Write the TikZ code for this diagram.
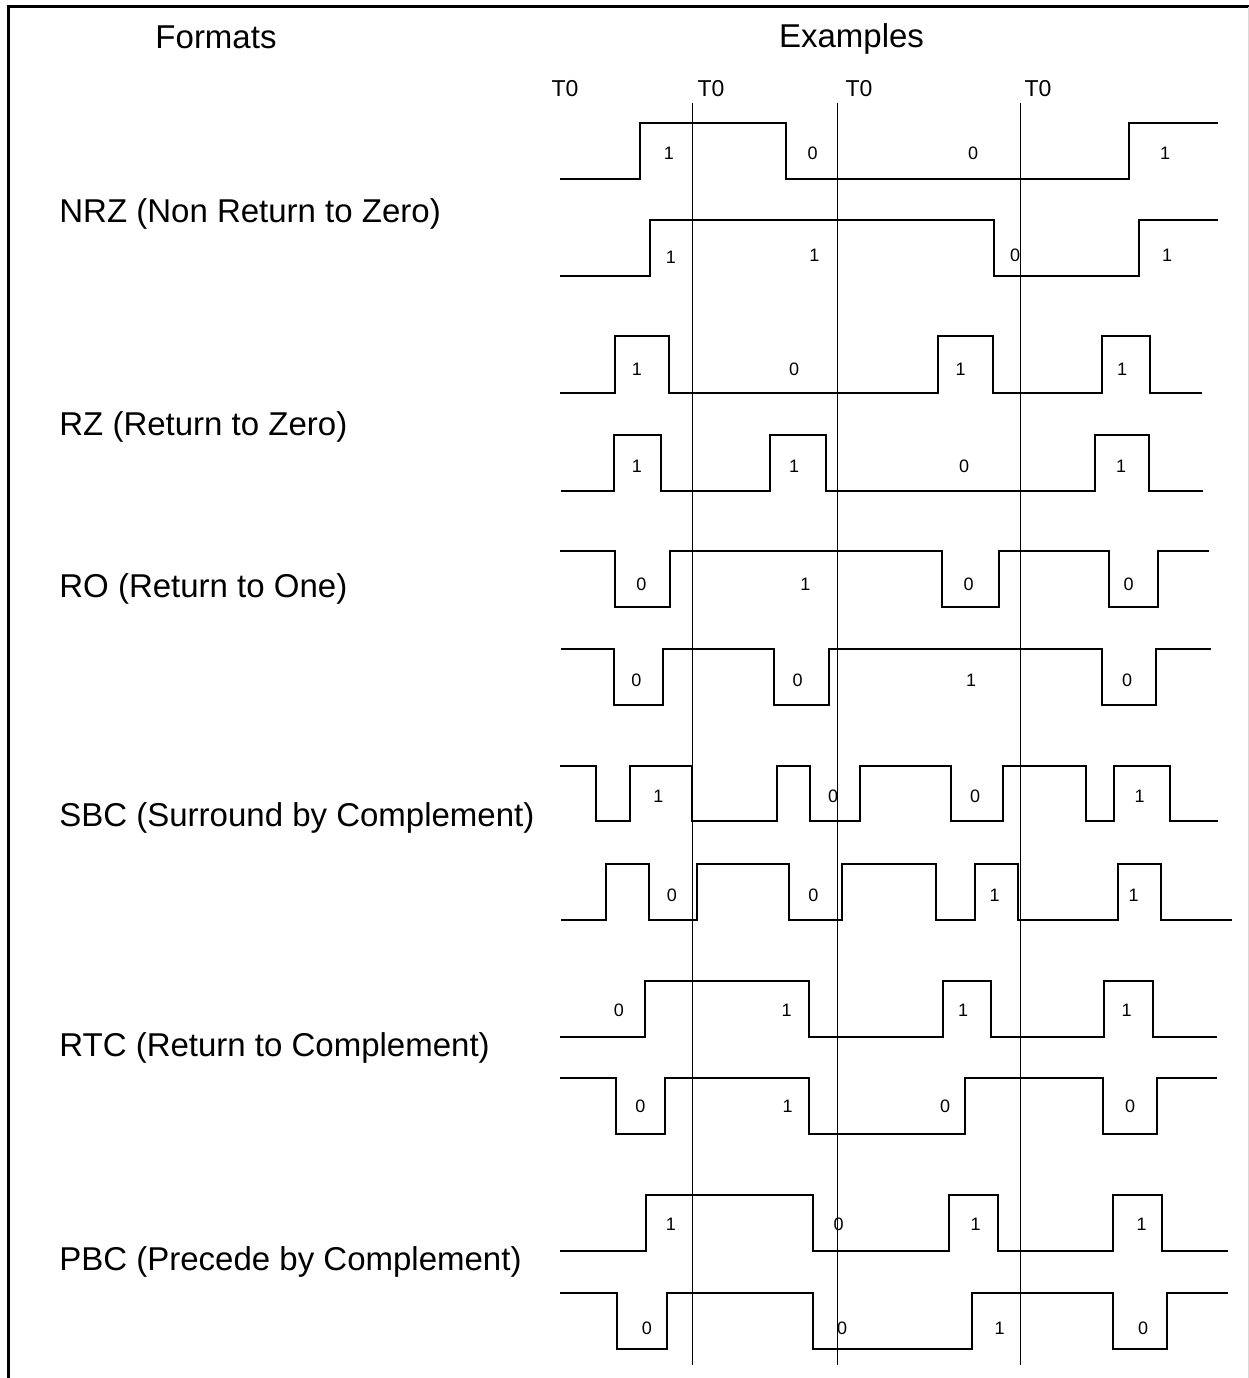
\documentclass[tikz,border=0pt]{standalone}
\usepackage{fontspec}
\setmainfont{Liberation Sans}
\usetikzlibrary{arrows.meta}

\begin{document}
\begin{tikzpicture}[x=0.5pt, y=-0.5pt,
    sig/.style={line width=1pt, line join=miter},
    tline/.style={line width=0.5pt},
    bitlbl/.style={font=\fontsize{9}{10}\selectfont, inner sep=0pt},
    tlbl/.style={font=\fontsize{11.5}{13}\selectfont, inner sep=0pt},
    fmtlbl/.style={font=\fontsize{16.5}{19}\selectfont, anchor=base west, inner sep=0pt}]

\useasboundingbox (0,0) rectangle (1249,1378);

% ═══════════════════════════════════════════════════════
% MARCO
% ═══════════════════════════════════════════════════════

\draw[line width=1.3pt] (8.5,1378) -- (8.5,6.5) -- (1249,6.5);
\draw[black!15, line width=0.5pt] (1248,6.5) -- (1248,1378);

% ═══════════════════════════════════════════════════════
% TÍTULOS
% ═══════════════════════════════════════════════════════

\node[font=\fontsize{16.5}{19}\selectfont, inner sep=0pt] (fmt) at (216,37) {Formats};
\node[font=\fontsize{16.5}{19}\selectfont, inner sep=0pt] (ex) at (851.5,39) {Examples};

% ═══════════════════════════════════════════════════════
% LÍNEAS T0
% ═══════════════════════════════════════════════════════

\node[tlbl] (t0a) at (565,89) {T0};
\node[tlbl] (t0b) at (711,89) {T0};
\node[tlbl] (t0c) at (859,89) {T0};
\node[tlbl] (t0d) at (1038,89) {T0};

\draw[tline] (692,103) -- (692,1365);
\draw[tline] (837.5,103) -- (837.5,1365);
\draw[tline] (1020.5,103) -- (1020.5,1365);

% ═══════════════════════════════════════════════════════
% NRZ
% ═══════════════════════════════════════════════════════

\node[fmtlbl] (nrz) at (59,222.5) {NRZ (Non Return to Zero)};

% 1 0 0 1
\draw[sig] (560,179) -- (640,179) -- (640,123) -- (785.5,123) -- (785.5,179)
    -- (1129,179) -- (1129,123) -- (1218,123);
\node[bitlbl] (nrza1) at (669,153) {1};
\node[bitlbl] (nrza2) at (812.5,153) {0};
\node[bitlbl] (nrza3) at (973,153) {0};
\node[bitlbl] (nrza4) at (1165,153) {1};

% 1 1 0 1
\draw[sig] (560,276) -- (650,276) -- (650,220) -- (993.5,220) -- (993.5,276)
    -- (1139,276) -- (1139,220) -- (1218,220);
\node[bitlbl] (nrzb1) at (671,257) {1};
\node[bitlbl] (nrzb2) at (814.5,255) {1};
\node[bitlbl] (nrzb3) at (1015,255) {0};
\node[bitlbl] (nrzb4) at (1167,255) {1};

% ═══════════════════════════════════════════════════════
% RZ
% ═══════════════════════════════════════════════════════

\node[fmtlbl] (rz) at (59,435) {RZ (Return to Zero)};

% 1 0 1 1
\draw[sig] (560,392.5) -- (614.5,392.5) -- (614.5,336) -- (669,336) -- (669,392.5)
    -- (937.5,392.5) -- (937.5,336) -- (992.5,336) -- (992.5,392.5)
    -- (1102,392.5) -- (1102,336) -- (1150,336) -- (1150,392.5) -- (1201.5,392.5);
\node[bitlbl] (rza1) at (637,369) {1};
\node[bitlbl] (rza2) at (794,369) {0};
\node[bitlbl] (rza3) at (960.5,369) {1};
\node[bitlbl] (rza4) at (1122,369) {1};

% 1 1 0 1
\draw[sig] (561,491) -- (613.5,491) -- (613.5,435) -- (661,435) -- (661,491)
    -- (770,491) -- (770,435) -- (826,435) -- (826,491)
    -- (1095,491) -- (1095,435) -- (1148.5,435) -- (1148.5,491) -- (1202.5,491);
\node[bitlbl] (rzb1) at (637,466) {1};
\node[bitlbl] (rzb2) at (794,466) {1};
\node[bitlbl] (rzb3) at (964,466) {0};
\node[bitlbl] (rzb4) at (1121,466) {1};

% ═══════════════════════════════════════════════════════
% RO
% ═══════════════════════════════════════════════════════

\node[fmtlbl] (ro) at (59,597.5) {RO (Return to One)};

% 0 1 0 0
\draw[sig] (560,551) -- (615,551) -- (615,607) -- (670,607) -- (670,551)
    -- (942,551) -- (942,607) -- (999,607) -- (999,551)
    -- (1108.5,551) -- (1108.5,607) -- (1157.5,607) -- (1157.5,551) -- (1209,551);
\node[bitlbl] (roa1) at (641.5,584) {0};
\node[bitlbl] (roa2) at (805.5,584) {1};
\node[bitlbl] (roa3) at (968.5,584) {0};
\node[bitlbl] (roa4) at (1128.5,584) {0};

% 0 0 1 0
\draw[sig] (561,649) -- (613.5,649) -- (613.5,705) -- (662.5,705) -- (662.5,649)
    -- (773.5,649) -- (773.5,705) -- (829,705) -- (829,649)
    -- (1101.5,649) -- (1101.5,705) -- (1155.5,705) -- (1155.5,649) -- (1210.5,649);
\node[bitlbl] (rob1) at (636.5,680.5) {0};
\node[bitlbl] (rob2) at (797.5,680.5) {0};
\node[bitlbl] (rob3) at (971,680.5) {1};
\node[bitlbl] (rob4) at (1127,680.5) {0};

% ═══════════════════════════════════════════════════════
% SBC
% ═══════════════════════════════════════════════════════

\node[fmtlbl] (sbc) at (59,826.5) {SBC (Surround by Complement)};

% 1 0 0 1
\draw[sig] (560,765.5) -- (595.5,765.5) -- (595.5,820.5) -- (630,820.5) -- (630,765.5)
    -- (691.5,765.5) -- (691.5,820.5) -- (777,820.5) -- (777,765.5)
    -- (810,765.5) -- (810,820.5) -- (859.5,820.5) -- (859.5,765.5)
    -- (951,765.5) -- (951,820.5) -- (1002.5,820.5) -- (1002.5,765.5)
    -- (1086,765.5) -- (1086,820.5) -- (1113.5,820.5) -- (1113.5,765.5)
    -- (1170,765.5) -- (1170,820.5) -- (1218,820.5);
\node[bitlbl] (sbca1) at (658.5,796) {1};
\node[bitlbl] (sbca2) at (833,796) {0};
\node[bitlbl] (sbca3) at (975,796) {0};
\node[bitlbl] (sbca4) at (1139.5,796) {1};

% 0 0 1 1
\draw[sig] (561,919.5) -- (605.5,919.5) -- (605.5,863.5) -- (648.5,863.5) -- (648.5,919.5)
    -- (697,919.5) -- (697,863.5) -- (788.5,863.5) -- (788.5,919.5)
    -- (842,919.5) -- (842,863.5) -- (936,863.5) -- (936,919.5)
    -- (975,919.5) -- (975,863.5) -- (1018,863.5) -- (1018,919.5)
    -- (1118,919.5) -- (1118,863.5) -- (1161,863.5) -- (1161,919.5) -- (1232,919.5);
\node[bitlbl] (sbcb1) at (672,895.5) {0};
\node[bitlbl] (sbcb2) at (813.5,895.5) {0};
\node[bitlbl] (sbcb3) at (994.5,895.5) {1};
\node[bitlbl] (sbcb4) at (1133.5,895.5) {1};

% ═══════════════════════════════════════════════════════
% RTC
% ═══════════════════════════════════════════════════════

\node[fmtlbl] (rtc) at (59,1056.5) {RTC (Return to Complement)};

% 0 1 1 1
\draw[sig] (560,1036.5) -- (645,1036.5) -- (645,980.5) -- (809,980.5) -- (809,1036.5)
    -- (943,1036.5) -- (943,980.5) -- (991,980.5) -- (991,1036.5)
    -- (1103.5,1036.5) -- (1103.5,980.5) -- (1152.5,980.5) -- (1152.5,1036.5) -- (1217,1036.5);
\node[bitlbl] (rtca1) at (619,1010.5) {0};
\node[bitlbl] (rtca2) at (786.5,1010.5) {1};
\node[bitlbl] (rtca3) at (963,1010.5) {1};
\node[bitlbl] (rtca4) at (1126.5,1010.5) {1};

% 0 1 0 0
\draw[sig] (560,1077.5) -- (616,1077.5) -- (616,1133.5) -- (665,1133.5) -- (665,1077.5)
    -- (809,1077.5) -- (809,1133.5) -- (965,1133.5) -- (965,1077.5)
    -- (1103,1077.5) -- (1103,1133.5) -- (1157,1133.5) -- (1157,1077.5) -- (1217,1077.5);
\node[bitlbl] (rtcb1) at (640.5,1106.5) {0};
\node[bitlbl] (rtcb2) at (787.5,1106.5) {1};
\node[bitlbl] (rtcb3) at (945,1106.5) {0};
\node[bitlbl] (rtcb4) at (1130,1106.5) {0};

% ═══════════════════════════════════════════════════════
% PBC
% ═══════════════════════════════════════════════════════

\node[fmtlbl] (pbc) at (59,1270.5) {PBC (Precede by Complement)};

% 1 0 1 1
\draw[sig] (560,1250.5) -- (646,1250.5) -- (646,1194.5) -- (812.5,1194.5) -- (812.5,1250.5)
    -- (949,1250.5) -- (949,1194.5) -- (998,1194.5) -- (998,1250.5)
    -- (1112.5,1250.5) -- (1112.5,1194.5) -- (1162,1194.5) -- (1162,1250.5) -- (1227.5,1250.5);
\node[bitlbl] (pbca1) at (671,1224) {1};
\node[bitlbl] (pbca2) at (838.5,1224) {0};
\node[bitlbl] (pbca3) at (975.5,1224) {1};
\node[bitlbl] (pbca4) at (1141.5,1224) {1};

% 0 0 1 0
\draw[sig] (560,1292.5) -- (617,1292.5) -- (617,1348.5) -- (667,1348.5) -- (667,1292.5)
    -- (812.5,1292.5) -- (812.5,1348.5) -- (971.5,1348.5) -- (971.5,1292.5)
    -- (1112.5,1292.5) -- (1112.5,1348.5) -- (1166.5,1348.5) -- (1166.5,1292.5) -- (1228,1292.5);
\node[bitlbl] (pbcb1) at (647,1328) {0};
\node[bitlbl] (pbcb2) at (842,1328) {0};
\node[bitlbl] (pbcb3) at (999.5,1328) {1};
\node[bitlbl] (pbcb4) at (1143,1328) {0};

\end{tikzpicture}
\end{document}
